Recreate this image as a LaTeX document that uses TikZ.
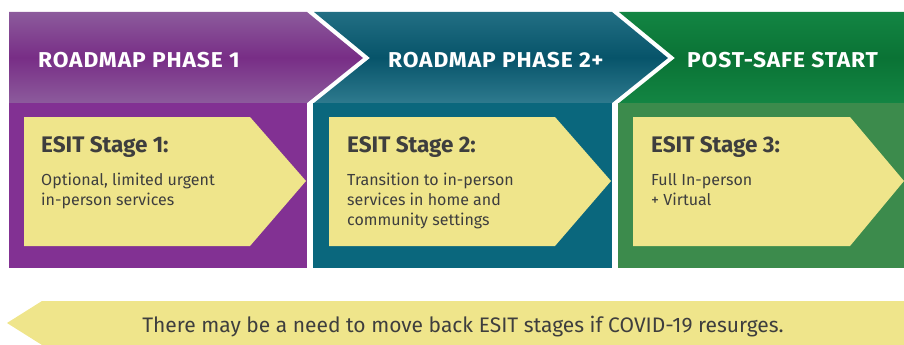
\documentclass[tikz,border=0pt]{standalone}
\usepackage{fontspec}
\setmainfont{Fira Sans}
\newfontfamily\headfont[LetterSpace=4, FakeStretch=1.06]{Fira Sans}
\usepackage{xcolor}
\usetikzlibrary{calc, positioning}

\definecolor{phaseone}{HTML}{823193}
\definecolor{phaseonelight}{HTML}{8C5B9C}
\definecolor{phaseonedark}{HTML}{782D86}
\definecolor{phasetwo}{HTML}{0A677D}
\definecolor{phasetwolight}{HTML}{2E7A8E}
\definecolor{phasetwodark}{HTML}{07546A}
\definecolor{postsafe}{HTML}{3C8B4C}
\definecolor{postsafelight}{HTML}{138543}
\definecolor{postsafedark}{HTML}{0A7335}
\definecolor{stageyellow}{HTML}{EFE58B}
\definecolor{stagetext}{HTML}{3E3E3E}

\begin{document}
\begin{tikzpicture}[x=1pt, y=-1pt,
	phasehead/.style={font=\headfont\bfseries\fontsize{21.5}{24}\selectfont, text=white, anchor=base west, inner sep=0pt},
	stagetitle/.style={font=\bfseries\fontsize{22.5}{28}\selectfont, text=stagetext, anchor=base west, inner sep=0pt},
	stagedesc/.style={font=\fontsize{16}{20}\selectfont, text=stagetext, anchor=base west, align=left, inner sep=0pt}]
	\useasboundingbox (0,0) rectangle (904,345);

	\shade[top color=postsafelight, bottom color=postsafelight, middle color=postsafedark]
		(619,12) -- (904,12) -- (904,103) -- (619,103) -- (675,58) -- cycle;
	\fill[postsafe] (618,103) rectangle (904,268);

	\shade[top color=phasetwolight!70!phasetwodark, bottom color=phasetwolight, middle color=phasetwodark]
		(314,12) -- (612,12) -- (668,58) -- (612,103) -- (314,103) -- (370,58) -- cycle;
	\fill[phasetwo] (313,103) rectangle (612,268);

	\shade[top color=phaseonelight, bottom color=phaseonelight, middle color=phaseonedark]
		(9,12) -- (307,12) -- (363,58) -- (307,103) -- (9,103) -- cycle;
	\fill[phaseone] (9,103) rectangle (307,268);

	\fill[stageyellow] (24,117) -- (250,117) -- (306,181) -- (250,246) -- (24,246) -- cycle;
	\fill[stageyellow] (329,117) -- (555,117) -- (611,181) -- (555,246) -- (329,246) -- cycle;
	\fill[stageyellow] (633,117) -- (850,117) -- (904,181) -- (850,246) -- (633,246) -- cycle;
	\fill[stageyellow] (904,301) -- (42,301) -- (7,323) -- (42,345) -- (904,345) -- cycle;

	\node[phasehead] (P1) at (38,67) {ROADMAP PHASE 1};
	\node[phasehead] (P2) at (388,67) {ROADMAP PHASE 2+};
	\node[phasehead] (P3) at (687,67) {POST-SAFE START};

	\node[stagetitle] (S1) at (41,152) {ESIT Stage 1:};
	\node[stagetitle] (S2) at (347,152) {ESIT Stage 2:};
	\node[stagetitle] (S3) at (651,152) {ESIT Stage 3:};

	\node[stagedesc] (D1) at (41,205) {Optional, limited urgent\\in-person services};
	\node[stagedesc] (D2) at (347,225) {Transition to in-person\\services in home and\\community settings};
	\node[stagedesc] (D3) at (651,205) {Full In-person\\+ Virtual};

	\node[font=\fontsize{21}{24}\selectfont, text=stagetext, anchor=base, inner sep=0pt] (Back) at (463,332)
		{There may be a need to move back ESIT stages if COVID-19 resurges.};
\end{tikzpicture}
\end{document}
